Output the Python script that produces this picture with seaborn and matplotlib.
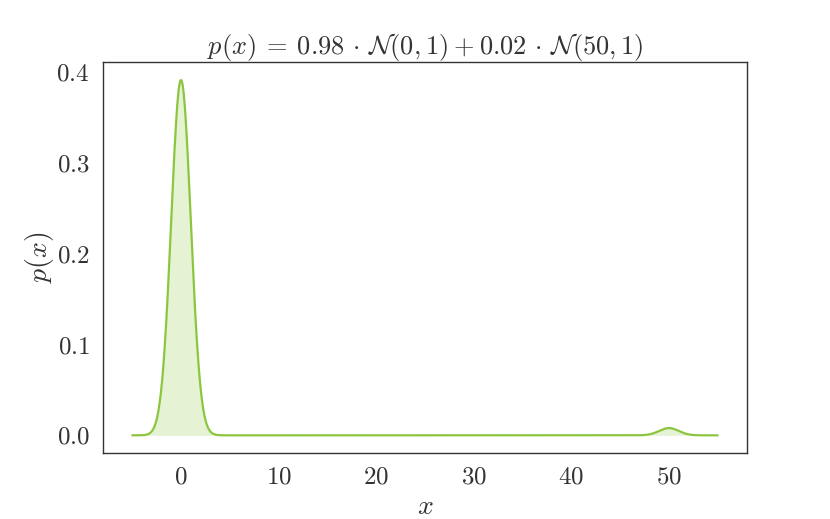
import numpy as np
import pandas as pd
import matplotlib
matplotlib.use("Agg")
import matplotlib.pyplot as plt
import seaborn as sns

# Mixture parameters (from the title)
weights = [0.98, 0.02]
means = [0.0, 50.0]
stds = [1.0, 1.0]
x_range = [-5, 55]

sns.set_style("white")
plt.rcParams["font.family"] = "serif"
plt.rcParams["font.serif"] = ["cmr10"]
plt.rcParams["mathtext.fontset"] = "cm"
plt.rcParams["axes.formatter.use_mathtext"] = True

x = np.linspace(x_range[0], x_range[1], 1000)
p = np.zeros_like(x)
for w, m, s in zip(weights, means, stds):
    p += w * np.exp(-0.5 * ((x - m) / s) ** 2) / (s * np.sqrt(2 * np.pi))
df = pd.DataFrame({"x": x, "p": p})

color = "#8cc63f"
fig, ax = plt.subplots(figsize=(8.3, 5.19), dpi=100)
sns.lineplot(data=df, x="x", y="p", ax=ax, color=color, linewidth=1.6)
ax.fill_between(df["x"], 0, df["p"], color=color, alpha=0.22, linewidth=0)

ax.set_xticks([0, 10, 20, 30, 40, 50])
ax.set_yticks([0.0, 0.1, 0.2, 0.3, 0.4])
ax.tick_params(labelsize=18, colors="#333333", pad=6)
ax.set_xlabel(r"$x$", fontsize=20, color="#333333", labelpad=4)
ax.set_ylabel(r"$p(x)$", fontsize=20, color="#333333", labelpad=0)
ax.set_title(r"$p(x)\:=\:0.98\,\cdot\,\mathcal{N}(0, 1)\:+\:0.02\,\cdot\,\mathcal{N}(50, 1)$",
             fontsize=19, color="#333333", pad=6)
for sp in ax.spines.values():
    sp.set_color("#333333")
    sp.set_linewidth(1.0)

fig.subplots_adjust(left=0.124, right=0.9, top=0.88, bottom=0.127)
fig.savefig("out.png", dpi=100)
